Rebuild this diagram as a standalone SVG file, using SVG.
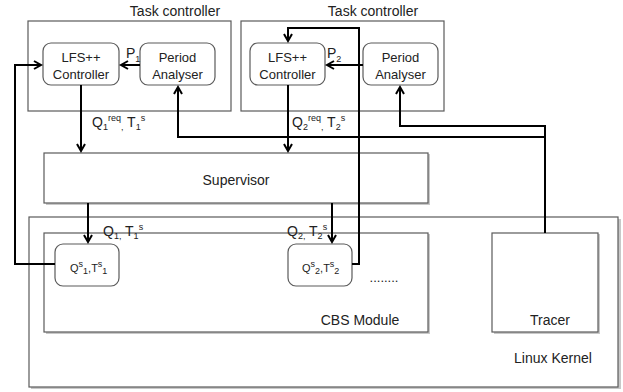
<svg xmlns="http://www.w3.org/2000/svg" width="623" height="392" viewBox="0 0 623 392">
<style>
text{font-family:"Liberation Sans",Arial,sans-serif;fill:#222}
.t14{font-size:14px}
.t13{font-size:13px}
.t11{font-size:11px}
.box{fill:#fff;stroke:#5a5a5a;stroke-width:1.2}
.shadow{fill:#c8c8c8;stroke:none}
.node{fill:#fff;stroke:#5a5a5a;stroke-width:1.2}
.conn{fill:none;stroke:#000;stroke-width:2}
.arr{marker-end:url(#ah)}
.sub{font-size:9px}
.sup{font-size:9px}
</style>
<defs>
<marker id="ah" markerUnits="userSpaceOnUse" markerWidth="12" markerHeight="12" refX="8" refY="5" orient="auto">
<path d="M1,1 L8,5 L1,9" fill="none" stroke="#000" stroke-width="2"/>
</marker>
</defs>

<g id="linux-kernel">
<rect class="shadow" x="31" y="219" width="590" height="170"/>
<rect class="box" x="29" y="217" width="589" height="170"/>
<text class="t14" x="553" y="363" text-anchor="middle">Linux Kernel</text>
</g>

<g id="cbs-module">
<rect class="shadow" x="46" y="234" width="384" height="100"/>
<rect class="box" x="44" y="233" width="384" height="99"/>
<text class="t14" x="360" y="325" text-anchor="middle">CBS Module</text>
<text class="t13" x="384" y="282" text-anchor="middle">........</text>
</g>

<g id="tracer">
<rect class="shadow" x="494" y="234" width="106" height="100"/>
<rect class="box" x="492" y="233" width="106" height="99"/>
<text class="t14" x="550" y="325" text-anchor="middle">Tracer</text>
</g>

<g id="task-controller-1">
<text class="t14" x="175" y="16" text-anchor="middle">Task controller</text>
<rect class="box" x="28" y="21" width="203" height="90"/>
</g>

<g id="task-controller-2">
<text class="t14" x="373" y="16" text-anchor="middle">Task controller</text>
<rect class="box" x="241" y="21" width="203" height="90"/>
</g>

<g id="supervisor">
<rect class="shadow" x="46" y="154" width="384" height="51"/>
<rect class="box" x="44" y="153" width="384" height="50"/>
<text class="t14" x="236" y="185" text-anchor="middle">Supervisor</text>
</g>

<g id="lfs-controller-1">
<rect class="node" x="43" y="43" width="76" height="42" rx="8"/>
<text class="t13" x="81" y="62" text-anchor="middle">LFS++</text>
<text class="t13" x="81" y="79" text-anchor="middle">Controller</text>
</g>

<g id="period-analyser-1">
<rect class="node" x="140" y="43" width="75" height="42" rx="8"/>
<text class="t13" x="177.5" y="62" text-anchor="middle">Period</text>
<text class="t13" x="177.5" y="79" text-anchor="middle">Analyser</text>
</g>

<g id="lfs-controller-2">
<rect class="node" x="250" y="43" width="75" height="42" rx="8"/>
<text class="t13" x="287.5" y="62" text-anchor="middle">LFS++</text>
<text class="t13" x="287.5" y="79" text-anchor="middle">Controller</text>
</g>

<g id="period-analyser-2">
<rect class="node" x="363" y="43" width="75" height="42" rx="8"/>
<text class="t13" x="400.5" y="62" text-anchor="middle">Period</text>
<text class="t13" x="400.5" y="79" text-anchor="middle">Analyser</text>
</g>

<g id="server-1">
<rect class="node" x="55" y="244" width="64" height="42" rx="8"/>
<text class="t11" x="70" y="272">Q<tspan class="sub" dy="-5">s</tspan><tspan class="sub" dy="7">1</tspan><tspan dy="-2">,T</tspan><tspan class="sub" dy="-5">s</tspan><tspan class="sub" dy="7">1</tspan></text>
</g>

<g id="server-2">
<rect class="node" x="288" y="244" width="64" height="42" rx="8"/>
<text class="t11" x="302" y="272">Q<tspan class="sub" dy="-5">s</tspan><tspan class="sub" dy="7">2</tspan><tspan dy="-2">,T</tspan><tspan class="sub" dy="-5">s</tspan><tspan class="sub" dy="7">2</tspan></text>
</g>

<g id="connectors">
<path class="conn arr" d="M55,264 H15 V65 H41"/>
<path class="conn arr" d="M140,65 H121"/>
<path class="conn arr" d="M81,85 V151"/>
<path class="conn arr" d="M88,203 V242"/>
<path class="conn arr" d="M288,85 V151"/>
<path class="conn arr" d="M332,203 V242"/>
<path class="conn arr" d="M352,264 H359 V28 H288 V41"/>
<path class="conn arr" d="M363,65 H327"/>
<path class="conn arr" d="M545,233 V126 H400 V87"/>
<path class="conn arr" d="M545,137 H178 V87"/>
</g>

<g id="labels">
<text class="t14" x="126" y="58">P<tspan class="sub" dy="4">1</tspan></text>
<text class="t14" x="327" y="58">P<tspan class="sub" dy="4">2</tspan></text>
<text class="t14" x="92" y="127">Q<tspan class="sub" dy="3">1</tspan><tspan class="sup" dy="-9">req</tspan><tspan class="sub" dy="9">,</tspan><tspan dy="-3"> T</tspan><tspan class="sub" dy="3">1</tspan><tspan class="sup" dy="-9">s</tspan></text>
<text class="t14" x="292" y="127">Q<tspan class="sub" dy="3">2</tspan><tspan class="sup" dy="-9">req</tspan><tspan class="sub" dy="9">,</tspan><tspan dy="-3"> T</tspan><tspan class="sub" dy="3">2</tspan><tspan class="sup" dy="-9">s</tspan></text>
<text class="t14" x="103" y="236">Q<tspan class="sub" dy="3">1,</tspan><tspan dy="-3"> T</tspan><tspan class="sub" dy="3">1</tspan><tspan class="sup" dy="-9">s</tspan></text>
<text class="t14" x="287" y="236">Q<tspan class="sub" dy="3">2,</tspan><tspan dy="-3"> T</tspan><tspan class="sub" dy="3">2</tspan><tspan class="sup" dy="-9">s</tspan></text>
</g>
</svg>
